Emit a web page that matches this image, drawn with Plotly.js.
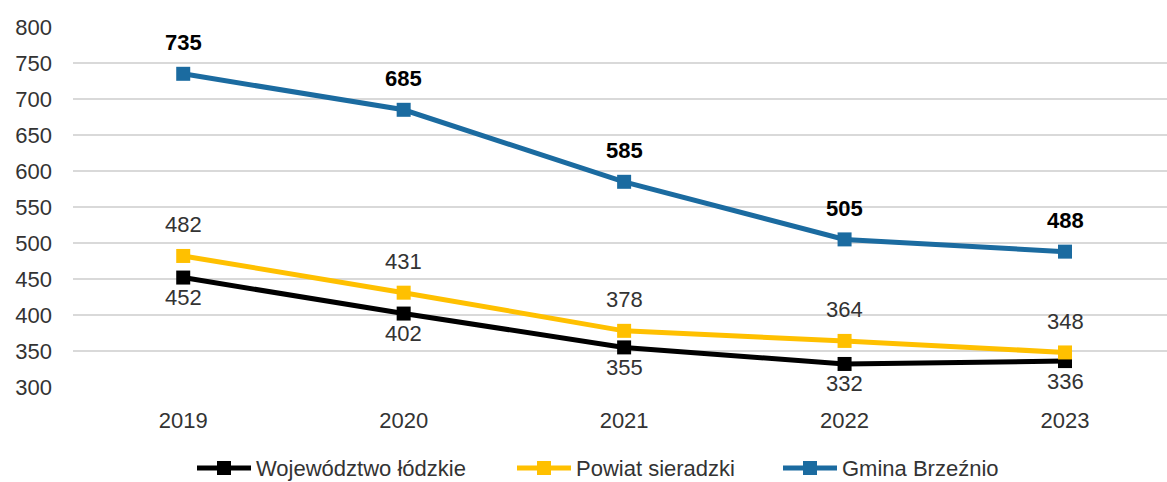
<!DOCTYPE html>
<html><head><meta charset="utf-8">
<script src="https://cdn.plot.ly/plotly-3.0.1.min.js"></script>
<style>body{margin:0;background:#fff}#chart{width:1167px;height:482px}</style>
</head><body><div id="chart"></div>
<script>
const years = ['2019','2020','2021','2022','2023'];
const wojewodztwo = [452, 402, 355, 332, 336];
const powiat = [482, 431, 378, 364, 348];
const gmina = [735, 685, 585, 505, 488];
const seriesNames = ['Województwo łódzkie', 'Powiat sieradzki', 'Gmina Brzeźnio'];
const colors = ['#000000', '#FFC000', '#1B6BA0'];
const allSeries = [wojewodztwo, powiat, gmina];

const FONT = 'Liberation Sans, Arial, sans-serif';
const W = 1167, H = 482, ML = 73, MR = 0, MT = 27, MB = 95;

const data = allSeries.map((v, i) => ({
  type: 'scatter', mode: 'lines+markers', x: years, y: v, name: seriesNames[i],
  line: {color: colors[i], width: 5},
  marker: {symbol: 'square', size: 14, color: colors[i]},
  showlegend: false
}));

const annotations = [];
const shifts = [-20, 31, 31];
allSeries.forEach((v, i) => {
  v.forEach((val, j) => annotations.push({
    x: j, y: val, xref: 'x', yref: 'y', text: i === 2 ? '<b>' + val + '</b>' : String(val),
    showarrow: false, yshift: shifts[i],
    font: {size: 22, color: i === 2 ? '#000' : '#333', family: FONT}
  }));
});

// manual legend (pixel positions converted to paper coords)
const px2paper = p => (p - ML) / (W - ML - MR);
const py2paper = p => (H - MB - p) / (H - MT - MB);
const legendStarts = [197, 517, 783];
const legY = py2paper(468);
const shapes = [];
legendStarts.forEach((s, i) => {
  shapes.push({type: 'line', xref: 'paper', yref: 'paper', x0: px2paper(s), x1: px2paper(s + 54),
               y0: legY, y1: legY, line: {color: colors[i], width: 5}});
  shapes.push({type: 'rect', xref: 'paper', yref: 'paper', x0: px2paper(s + 20), x1: px2paper(s + 34),
               y0: py2paper(475), y1: py2paper(461), fillcolor: colors[i], line: {width: 0}});
  annotations.push({xref: 'paper', yref: 'paper', x: px2paper(s + 57), y: legY, xanchor: 'left', yanchor: 'middle',
                    text: seriesNames[i], showarrow: false, font: {size: 22, color: '#333', family: FONT}});
});

const layout = {
  width: W, height: H,
  margin: {l: ML, r: MR, t: MT, b: MB, autoexpand: false},
  paper_bgcolor: '#fff', plot_bgcolor: '#fff',
  font: {family: FONT, size: 22, color: '#333'},
  showlegend: false,
  xaxis: {type: 'category', range: [-0.5, 4.4626], showgrid: false, zeroline: false,
          showline: false, ticks: '', ticklabelstandoff: 18, fixedrange: true},
  yaxis: {range: [300, 800], dtick: 50, tick0: 300, showgrid: true, gridcolor: '#d9d9d9',
          gridwidth: 1.5, zeroline: false, showline: false, ticks: '', ticklabelstandoff: 20},
  annotations: annotations,
  shapes: shapes
};
Plotly.newPlot('chart', data, layout, {displayModeBar: false, staticPlot: true});
</script></body></html>
